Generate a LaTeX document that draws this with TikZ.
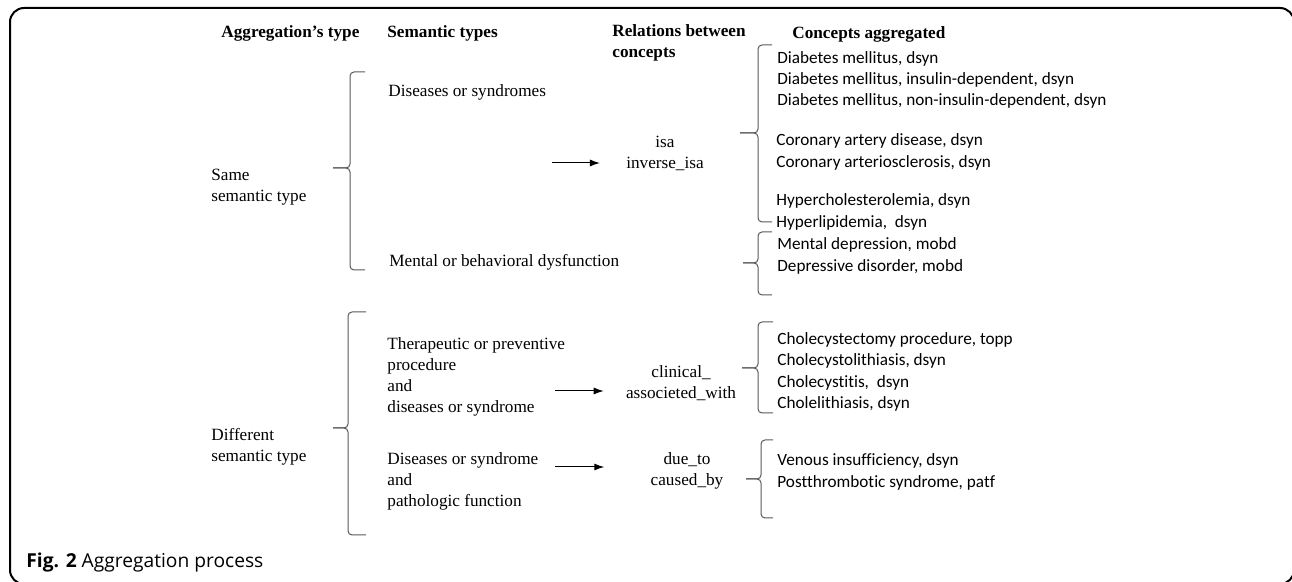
\documentclass[tikz,border=0pt]{standalone}
\usepackage{fontspec}
\setmainfont{Liberation Serif}
\newfontfamily\calibri[Ligatures=NoCommon]{Carlito}
\newfontfamily\capfont{Open Sans}
\usetikzlibrary{arrows.meta}

\begin{document}
\begin{tikzpicture}[x=0.5pt, y=-0.5pt,
    serif/.style={font=\fontsize{8.6}{10.5}\selectfont, inner sep=0pt, anchor=west, align=left},
    head/.style={serif, font=\fontsize{8.6}{10.2}\selectfont\bfseries},
    relation/.style={font=\fontsize{8.6}{10.5}\selectfont, inner sep=0pt, align=center},
    concept/.style={font=\calibri\fontsize{8.6}{10.7}\selectfont, inner sep=0pt, anchor=west, align=left},
    brace/.style={draw=black!65, line width=0.5pt, rounded corners=2pt},
    arr/.style={-{Latex[length=5pt,width=3.5pt]}, line width=0.5pt}]
    \useasboundingbox (0,0) rectangle (1292,582);
    % frame
    \draw[line width=1pt, rounded corners=7pt] (10,8) rectangle (1294,584);

    % column heads
    \node[head] (hAgg) at (221,33) {Aggregation’s type};
    \node[head] (hSem) at (387,33) {Semantic types};
    \node[head] (hRel) at (612,43) {Relations between\\concepts};
    \node[head] (hCon) at (792,34) {Concepts aggregated};

    % aggregation types
    \node[serif] (same) at (211,187) {Same\\semantic type};
    \node[serif] (diff) at (211,447) {Different\\semantic type};

    % semantic types
    \node[serif] (sDis) at (388,92) {Diseases or syndromes};
    \node[serif] (sMen) at (389,262) {Mental or behavioral dysfunction};
    \node[serif] (sThe) at (387,377) {Therapeutic or preventive\\procedure\\and\\diseases or syndrome};
    \node[serif] (sPat) at (387,481) {Diseases or syndrome\\and\\pathologic function};

    % relations
    \node[relation] (rIsa) at (665,153) {isa\\inverse\_isa};
    \node[relation] (rCli) at (681,383) {clinical\_\\associeted\_with};
    \node[relation] (rDue) at (687,471) {due\_to\\caused\_by};

    % concepts
    \node[concept] (cDia) at (777,80) {Diabetes mellitus, dsyn\\Diabetes mellitus, insulin-dependent, dsyn\\Diabetes mellitus, non-insulin-dependent, dsyn};
    \node[concept] (cCor) at (776,152) {Coronary artery disease, dsyn\\Coronary arteriosclerosis, dsyn};
    \node[concept] (cHyp) at (776,212) {Hypercholesterolemia, dsyn\\Hyperlipidemia,~ dsyn};
    \node[concept] (cMen) at (777,256) {Mental depression, mobd\\Depressive disorder, mobd};
    \node[concept] (cCho) at (777,372) {Cholecystectomy procedure, topp\\Cholecystolithiasis, dsyn\\Cholecystitis,~ dsyn\\Cholelithiasis, dsyn};
    \node[concept] (cVen) at (777,472) {Venous insufficiency, dsyn\\Postthrombotic syndrome, patf};

    % braces: tip x / stem x / end x / top / tip y / bottom
    \foreach \tx/\vx/\ex/\t/\m/\b in {333/350/365/72/168/270, 333/348/366/312/428/535,
        740/758/772/45/133/222, 743/758/772/232/263/295,
        742/758/773/322/368/413, 746/761/773/440/479/518}
    {
        \draw[brace] (\ex,\t) -- (\vx,\t) -- (\vx,\m) -- (\tx,\m);
        \draw[brace] (\ex,\b) -- (\vx,\b) -- (\vx,\m) -- (\tx,\m);
    }

    % arrows
    \coordinate (a1) at (552,163);
    \coordinate (a2) at (555,391);
    \coordinate (a3) at (555,467);
    \draw[arr, shorten >=13pt] (a1) -- (a1 -| rIsa.west);
    \draw[arr, shorten >=11pt] (a2) -- (a2 -| rCli.west);
    \draw[arr, shorten >=23pt] (a3) -- (a3 -| rDue.west);

    % caption
    \node[font=\capfont\fontsize{9.6}{11}\selectfont, anchor=west, inner sep=0pt] (cap) at (26,563) {\textbf{Fig. 2} Aggregation process};
\end{tikzpicture}
\end{document}
